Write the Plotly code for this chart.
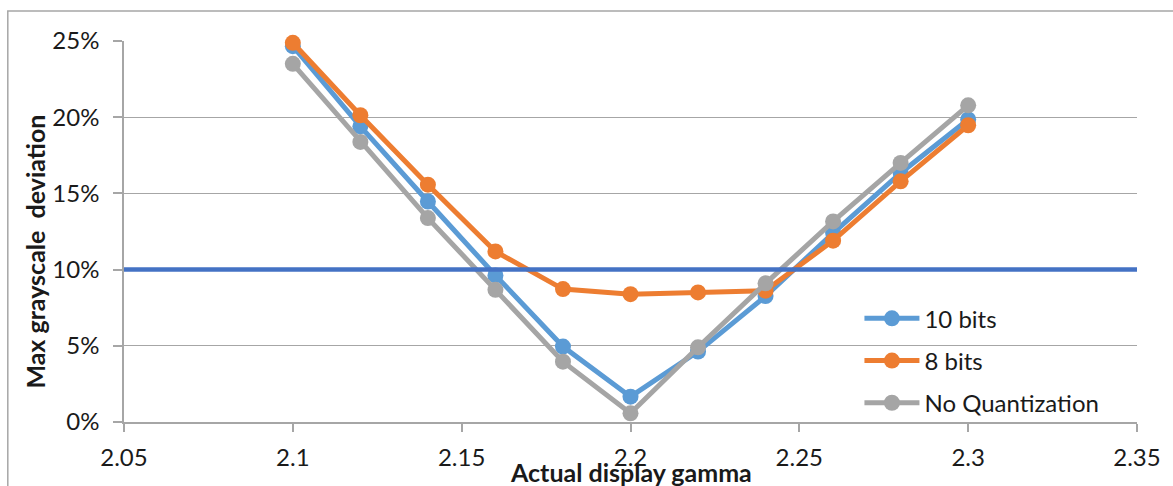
import plotly.graph_objects as go

gamma = [2.1, 2.12, 2.14, 2.16, 2.18, 2.2, 2.22, 2.24, 2.26, 2.28, 2.3]
bits10 = [0.2466, 0.194, 0.1447, 0.0962, 0.0495, 0.0166, 0.0462, 0.0826, 0.124, 0.1634, 0.1985]
bits8 = [0.2488, 0.2013, 0.1557, 0.1119, 0.0872, 0.0839, 0.085, 0.0862, 0.119, 0.1579, 0.1947]
noquant = [0.235, 0.1838, 0.1338, 0.0867, 0.0396, 0.0057, 0.049, 0.091, 0.1316, 0.1700, 0.2078]
threshold_x = [2.05, 2.35]
threshold_y = [0.10, 0.10]

x_tickvals = [2.05, 2.1, 2.15, 2.2, 2.25, 2.3, 2.35]
x_ticktext = ["2.05", "2.1", "2.15", "2.2", "2.25", "2.3", "2.35"]
y_tickvals = [0, 0.05, 0.10, 0.15, 0.20, 0.25]

FONT = "Lato"
GRID = "#A6A6A6"
TXT = "#1a1a1a"

fig = go.Figure()
series = [("10 bits", bits10, "#5B9BD5"), ("8 bits", bits8, "#ED7D31"), ("No Quantization", noquant, "#A5A5A5")]
for name, vals, col in series:
    fig.add_trace(go.Scatter(
        x=gamma, y=vals, name=name, mode="lines+markers", legendgroup=name,
        line=dict(color=col, width=5), marker=dict(color=col, size=16),
        cliponaxis=False))
fig.add_trace(go.Scatter(x=threshold_x, y=threshold_y, mode="lines", showlegend=False,
                         line=dict(color="#4472C4", width=4.5), cliponaxis=False))

fig.update_layout(
    width=1173, height=486,
    margin=dict(l=124, r=29, t=41, b=64),
    paper_bgcolor="white", plot_bgcolor="white",
    font=dict(family=FONT, size=24, color=TXT),
    showlegend=True,
    legend=dict(x=0.726, y=0.33, xanchor="left", yanchor="top",
                bgcolor="rgba(0,0,0,0)", tracegroupgap=8, itemwidth=55,
                font=dict(size=24, family=FONT, color=TXT)),
    xaxis=dict(range=[2.05, 2.35], tickvals=x_tickvals, ticktext=x_ticktext,
               showgrid=False, zeroline=False, showline=True, linecolor=GRID, linewidth=1.5,
               ticks="outside", ticklen=8, tickcolor=GRID, tickwidth=1.5,
               ticklabelstandoff=5),
    yaxis=dict(range=[0, 0.25], tickvals=y_tickvals, tickformat=".0%",
               showgrid=True, gridcolor=GRID, gridwidth=1.2, zeroline=False,
               showline=True, linecolor=GRID, linewidth=1.5,
               ticks="outside", ticklen=9, tickcolor=GRID, tickwidth=1.5,
               ticklabelstandoff=9),
    shapes=[dict(type="rect", xref="paper", yref="paper",
                 x0=(7 - 124) / 1020, x1=1.2, y0=-1, y1=(422 - 11) / 381,
                 line=dict(color=GRID, width=1.5), fillcolor="rgba(0,0,0,0)", layer="below")],
    annotations=[
        dict(text="<b>Max grayscale\u00a0 deviation</b>", xref="paper", yref="paper",
             x=(34 - 124) / 1020, y=(422 - 252) / 381, textangle=-90, showarrow=False,
             xanchor="center", yanchor="middle", font=dict(size=25, family=FONT, color=TXT)),
        dict(text="<b>Actual display gamma</b>", xref="paper", yref="paper",
             x=(634 - 124) / 1020, y=(422 - 455) / 381, showarrow=False,
             xanchor="center", yanchor="top", font=dict(size=25, family=FONT, color=TXT)),
    ],
)

fig.write_html("out.html")
